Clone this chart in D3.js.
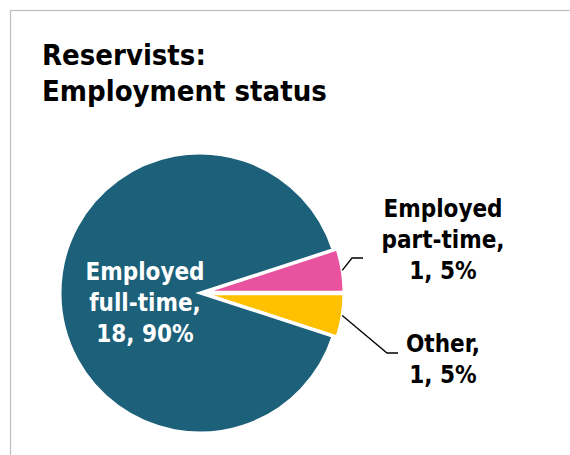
<!DOCTYPE html>
<html><head><meta charset="utf-8">
<script src="https://cdn.jsdelivr.net/npm/d3@7"></script>
<style>
html,body{margin:0;padding:0;background:#fff;}
svg{display:block;}
text{font-family:"DejaVu Sans Condensed","DejaVu Sans",sans-serif;font-weight:bold;}
</style></head>
<body>
<script>
const titleLines = ["Reservists:", "Employment status"];
const categories = ["Employed part-time", "Other", "Employed full-time"];
const counts = [1, 1, 18];
const percents = ["5%", "5%", "90%"];
const colors = ["#e8529f", "#ffc000", "#1c6079"];
const labelLines = [["Employed", "part-time,", "1, 5%"], ["Other,", "1, 5%"], ["Employed", "full-time,", "18, 90%"]];

const W = 570, H = 455;
const svg = d3.select("body").append("svg").attr("width", W).attr("height", H);

svg.append("rect").attr("x", 10.5).attr("y", 10.5).attr("width", 700).attr("height", 600)
  .attr("fill", "none").attr("stroke", "#bfbfbf").attr("stroke-width", 1.2);

svg.append("text").attr("x", 42).attr("font-size", 29).attr("fill", "#000")
  .selectAll("tspan").data(titleLines).join("tspan")
  .attr("x", 42).attr("y", (d, i) => 65 + i * 36).text(d => d);

const cx = 200, cy = 293, R = 140;
const data = categories.map((c, i) => ({cat: c, value: counts[i], i}));
const pie = d3.pie().value(d => d.value).sort(null)
  .startAngle(Math.PI / 2 - Math.PI * 2 * counts[0] / d3.sum(counts))
  .endAngle(Math.PI / 2 - Math.PI * 2 * counts[0] / d3.sum(counts) + Math.PI * 2);
const arcs = pie(data);
const arc = d3.arc().innerRadius(0).outerRadius(R);
const explode = [4, 4, 0];

const g = svg.append("g").attr("transform", `translate(${cx},${cy})`);
g.selectAll("path").data(arcs).join("path")
  .attr("d", arc)
  .attr("transform", d => {
    const m = (d.startAngle + d.endAngle) / 2, e = explode[d.data.i];
    return `translate(${e * Math.sin(m)},${-e * Math.cos(m)})`;
  })
  .attr("fill", d => colors[d.data.i])
  .attr("stroke", "#fff").attr("stroke-width", 3).attr("stroke-linejoin", "miter");

// leader lines
const pt = (a, r) => [r * Math.sin(a), -r * Math.cos(a)];
const mid = d => (d.startAngle + d.endAngle) / 2;
const leaders = [
  [pt(mid(arcs[0]), R + 4), [152, -35], [163, -35]],
  [pt(mid(arcs[1]), R + 4), [187, 60], [198, 60]]
];
g.selectAll("path.leader").data(leaders).join("path").attr("class", "leader")
  .attr("d", d => d3.line()(d)).attr("fill", "none").attr("stroke", "#000").attr("stroke-width", 1.3);

// labels
const labelPos = [{x: 443, y: 217, fill: "#000"}, {x: 443, y: 352, fill: "#000"}, {x: 145, y: 280, fill: "#fff"}];
labelLines.forEach((lines, i) => {
  svg.append("text").attr("text-anchor", "middle").attr("font-size", 24).attr("fill", labelPos[i].fill)
    .selectAll("tspan").data(lines).join("tspan")
    .attr("x", labelPos[i].x).attr("y", (d, j) => labelPos[i].y + j * 31).text(d => d);
});
</script>
</body></html>
